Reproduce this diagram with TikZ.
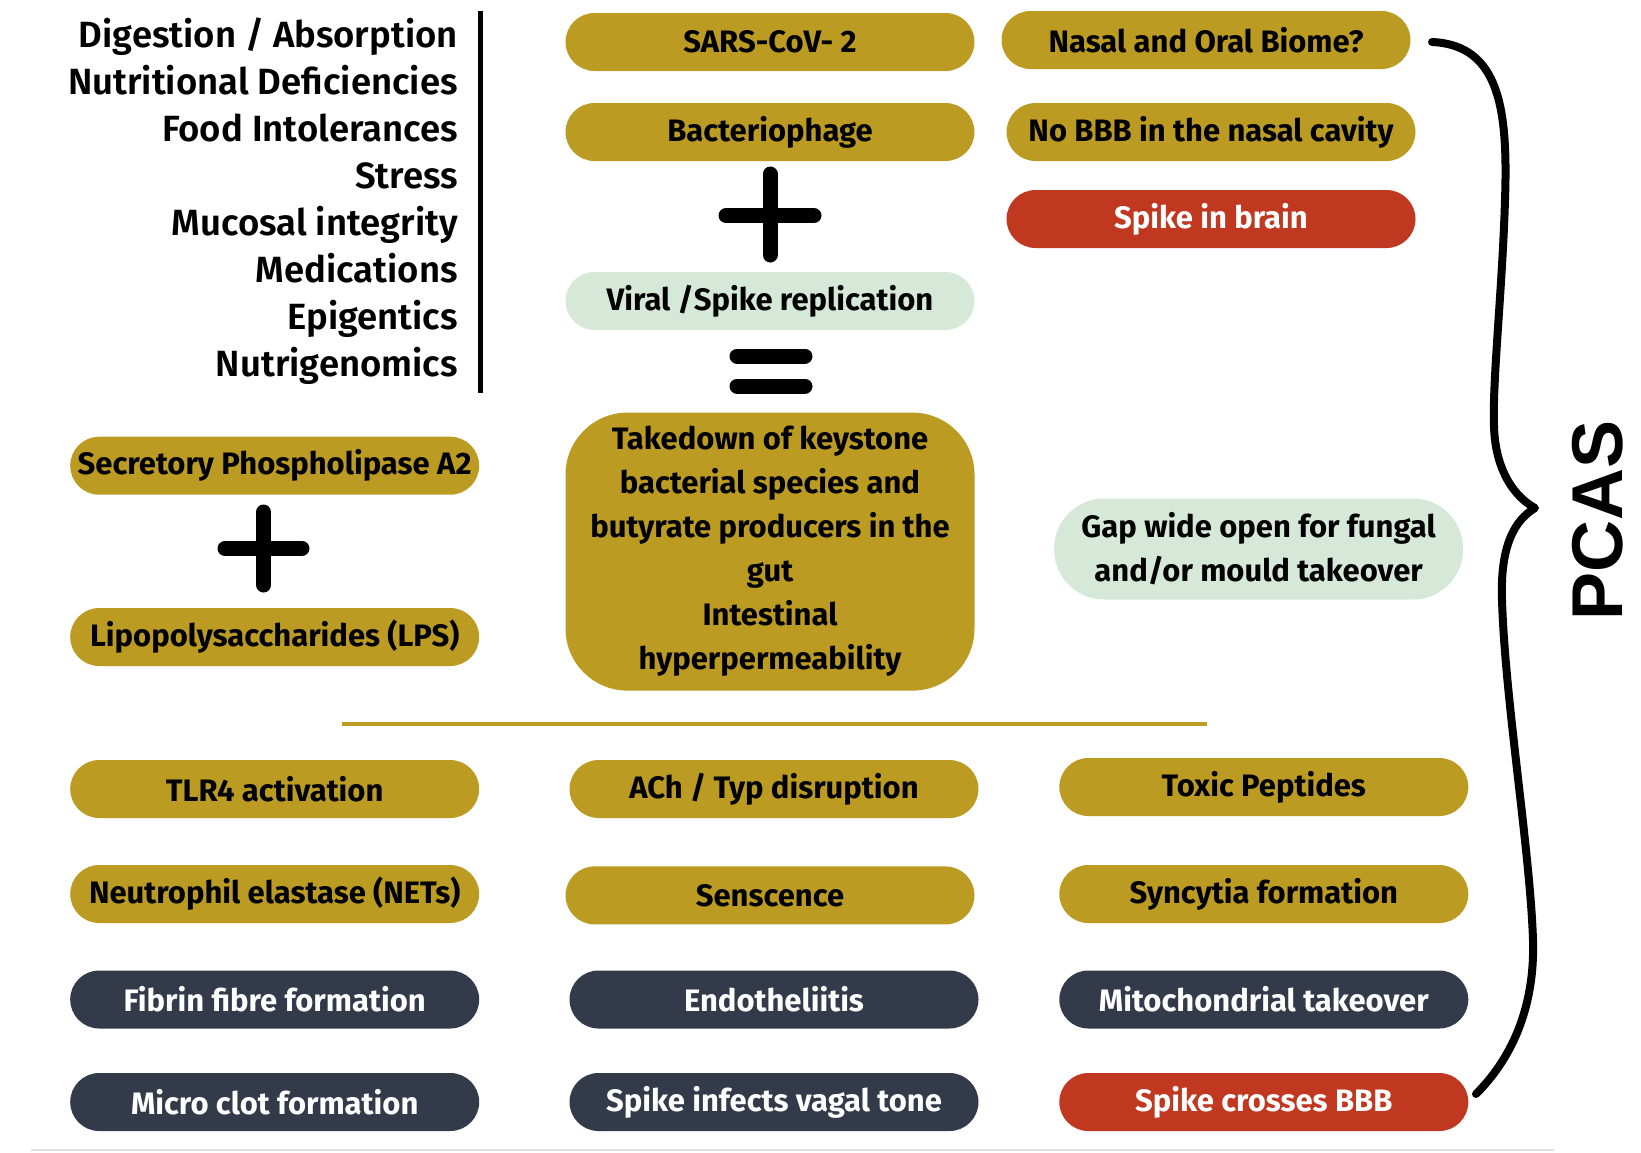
\documentclass[tikz,border=0pt]{standalone}
\usepackage{fontspec}
\setmainfont{Fira Sans}
\newfontfamily\listfont{Fira Sans SemiBold}
\newfontfamily\pcasfont{Liberation Sans}

\begin{document}
\begin{tikzpicture}[x=1pt, y=-1pt,
    pill/.style={rounded corners=29pt, minimum width=409pt, minimum height=58pt,
      inner sep=0pt, align=center, font=\fontsize{31}{44}\selectfont\bfseries},
    goldpill/.style={pill, fill=gold, text=black},
    greenpill/.style={pill, fill=mint, text=black},
    redpill/.style={pill, fill=brick, text=white},
    navypill/.style={pill, fill=navy, text=white},
    listtext/.style={anchor=base east, inner sep=0pt, font=\listfont\fontsize{36.5}{36}\selectfont},
    sign/.style={line width=15pt, line cap=round}]
  \definecolor{gold}{RGB}{188,155,35}
  \definecolor{mint}{RGB}{214,233,216}
  \definecolor{brick}{RGB}{193,56,32}
  \definecolor{navy}{RGB}{51,58,74}
  \useasboundingbox (0,0) rectangle (1641,1152);

  % factors on the left
  \foreach \fac [count=\i] in {Digestion / Absorption, Nutritional Deficiencies,
      Food Intolerances, Stress, Mucosal integrity, Medications, Epigentics, Nutrigenomics}
    \node[listtext] (fac\i) at (458, {47+47.1*(\i-1)}) {\fac};
  \draw[line width=4.5pt] (480.4,10.5) -- (480.4,392.5);

  % middle column
  \node[goldpill] (sars) at (770,42) {SARS-CoV- 2};
  \node[goldpill] (phage) at (770,132) {Bacteriophage};
  \draw[sign] (770,174) -- (770,255) (726,215.6) -- (814,215.6);
  \node[greenpill] (viral) at (770,301) {Viral /Spike replication};
  \draw[sign] (737,356) -- (805,356) (737,386) -- (805,386);
  \node[goldpill, minimum height=278pt, rounded corners=62pt] (takedown) at (770,551.6)
    {Takedown of keystone\\bacterial species and\\butyrate producers in the\\gut\\Intestinal\\hyperpermeability};

  % right column
  \node[goldpill] (nasal) at (1206,40) {Nasal and Oral Biome?};
  \node[goldpill] (nobbb) at (1211,132) {No BBB in the nasal cavity};
  \node[redpill] (brainspike) at (1211,219) {Spike in brain};
  \node[greenpill, minimum height=101pt, rounded corners=50pt] (gap) at (1258.6,549)
    {Gap wide open for fungal\\and/or mould takeover};

  % left middle
  \node[goldpill] (spla2) at (274.7,465.7) {Secretory Phospholipase A2};
  \draw[sign] (263.7,512) -- (263.7,585) (225,548.4) -- (302,548.4);
  \node[goldpill] (lps) at (274.7,637) {Lipopolysaccharides (LPS)};

  \draw[gold, line width=4.5pt] (342,724) -- (1207,724);

  % lower grid
  \node[goldpill] (tlr4) at (274.7,789) {TLR4 activation};
  \node[goldpill] (ach) at (774,789) {ACh / Typ disruption};
  \node[goldpill] (toxic) at (1263.8,787) {Toxic Peptides};
  \node[goldpill] (nets) at (274.7,894) {Neutrophil elastase (NETs)};
  \node[goldpill] (senscence) at (770,895.4) {Senscence};
  \node[goldpill] (syncytia) at (1263.8,894) {Syncytia formation};
  \node[navypill] (fibrin) at (274.7,999.5) {Fibrin fibre formation};
  \node[navypill] (endo) at (774,999.5) {Endotheliitis};
  \node[navypill] (mito) at (1263.8,999.5) {Mitochondrial takeover};
  \node[navypill] (microclot) at (274.7,1102) {Micro clot formation};
  \node[navypill] (vagal) at (774,1102) {Spike infects vagal tone};
  \node[redpill] (bbb) at (1263.8,1102) {Spike crosses BBB};

  \draw[black!12, line width=1.5pt] (31,1150) -- (1554,1150);

  % brace
  \draw[line width=8pt, line cap=round, line join=round]
    (1432,42) .. controls (1500,45) and (1508,110) .. (1505,200)
    .. controls (1502,300) and (1490,400) .. (1495,440)
    .. controls (1500,480) and (1520,500) .. (1535,508)
    .. controls (1515,520) and (1500,545) .. (1502,600)
    .. controls (1505,700) and (1530,850) .. (1533,940)
    .. controls (1535,1010) and (1510,1060) .. (1476,1094);
  \node[rotate=90, font=\pcasfont\bfseries\fontsize{72}{72}\selectfont] (pcas) at (1598,520) {PCAS};
\end{tikzpicture}
\end{document}
